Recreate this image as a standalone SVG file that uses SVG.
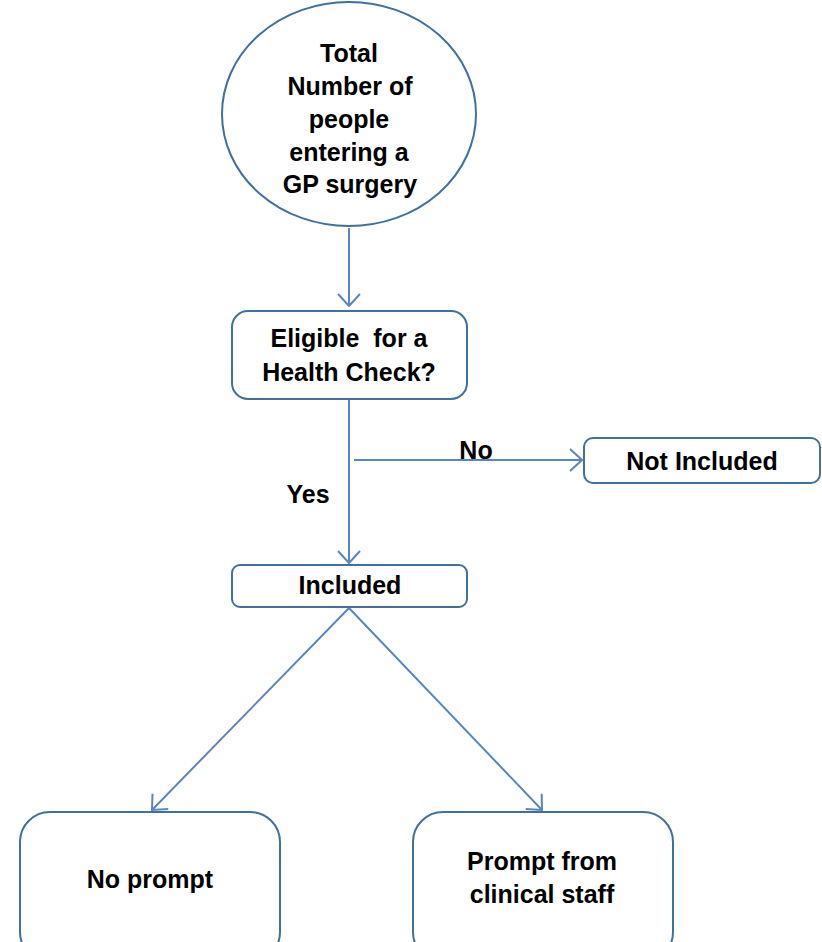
<svg xmlns="http://www.w3.org/2000/svg" width="822" height="942" viewBox="0 0 822 942">
<style>
.node{fill:#ffffff;stroke:#41709c;stroke-width:2}
.edge{fill:none;stroke:#5a86c0;stroke-width:2}
text{font-family:"Liberation Sans",Arial,sans-serif;font-weight:bold;font-size:25px;fill:#000;text-anchor:middle}
</style>
<defs>
<marker id="arr" viewBox="0 0 14 24" refX="13" refY="12" markerWidth="14" markerHeight="24" markerUnits="userSpaceOnUse" orient="auto">
<path d="M1,1 L13,12 L1,23" fill="none" stroke="#5a86c0" stroke-width="2"/>
</marker>
</defs>
<rect width="822" height="942" fill="#ffffff"/>
<g id="connectors">
<line class="edge" x1="349" y1="228" x2="349" y2="306" marker-end="url(#arr)"/>
<line class="edge" x1="349" y1="400" x2="349" y2="563" marker-end="url(#arr)"/>
<line class="edge" x1="354" y1="460" x2="582" y2="460" marker-end="url(#arr)"/>
<line class="edge" x1="349" y1="608" x2="152" y2="810" marker-end="url(#arr)"/>
<line class="edge" x1="349" y1="608" x2="542" y2="810" marker-end="url(#arr)"/>
<text x="476" y="459">No</text>
<text x="308" y="503">Yes</text>
</g>
<g id="total">
<ellipse class="node" cx="349" cy="114" rx="127" ry="112"/>
<text x="349" y="62">Total</text>
<text x="350" y="95">Number of</text>
<text x="349" y="128">people</text>
<text x="349" y="161">entering a</text>
<text x="350" y="193">GP surgery</text>
</g>
<g id="eligible">
<rect class="node" x="232" y="311" width="235" height="88" rx="16"/>
<text x="349" y="347" xml:space="preserve">Eligible  for a</text>
<text x="349" y="381">Health Check?</text>
</g>
<g id="not-included">
<rect class="node" x="584" y="438" width="236" height="45" rx="9"/>
<text x="702" y="470">Not Included</text>
</g>
<g id="included">
<rect class="node" x="232" y="565" width="235" height="42" rx="8"/>
<text x="350" y="594">Included</text>
</g>
<g id="no-prompt">
<rect class="node" x="20" y="812" width="260" height="150" rx="30"/>
<text x="150" y="888">No prompt</text>
</g>
<g id="prompt-clinical">
<rect class="node" x="413" y="812" width="260" height="150" rx="30"/>
<text x="542" y="870">Prompt from</text>
<text x="542" y="903">clinical staff</text>
</g>
</svg>
